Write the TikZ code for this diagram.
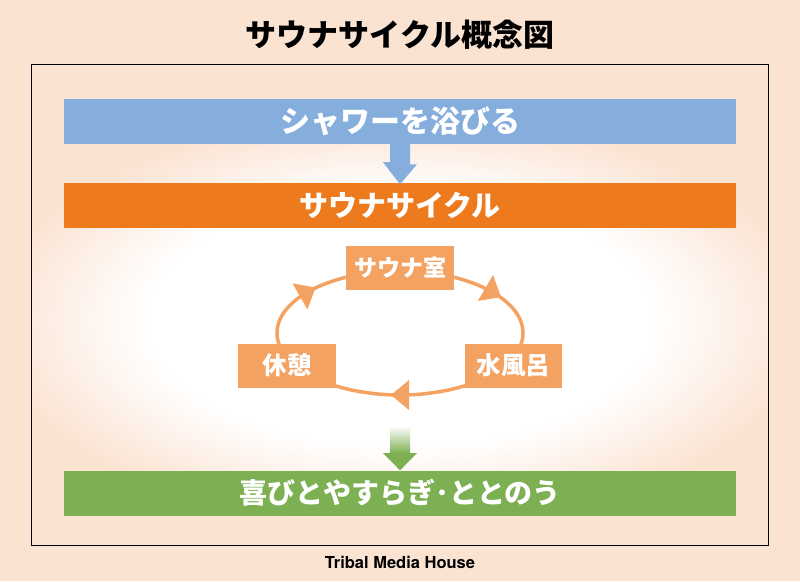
\documentclass[tikz,border=0pt]{standalone}
\usepackage{fontspec}
\newfontfamily\jp{Noto Sans CJK JP}
\setsansfont{TeX Gyre Heros}
\usetikzlibrary{arrows.meta,decorations.markings}
\definecolor{peach}{RGB}{251,227,210}
\definecolor{barblue}{RGB}{133,174,220}
\definecolor{barorange}{RGB}{238,122,30}
\definecolor{bargreen}{RGB}{125,176,82}
\definecolor{cyc}{RGB}{243,162,98}
\pgfdeclareradialshading{glow}{\pgfpoint{0bp}{0bp}}{color(0bp)=(white); color(15bp)=(white); color(24.5bp)=(peach); color(50bp)=(peach)}
\tikzset{
  bar/.style={minimum width=672pt, minimum height=45pt, inner sep=0pt, text=white, font=\jp\bfseries\fontsize{29}{29}\selectfont},
  cycbox/.style={fill=cyc, inner sep=0pt, minimum height=44pt, text=white, font=\jp\bfseries\fontsize{24.5}{24.5}\selectfont},
  cycline/.style={draw=cyc, line width=3.5pt},
}
\newcommand{\cychead}{\fill[cyc] (9pt,0) -- (-9pt,15pt) -- (-9pt,-15pt) -- cycle;}
\begin{document}
\begin{tikzpicture}[x=1pt,y=-1pt]
\useasboundingbox (0,0) rectangle (800,581);
\fill[peach] (0,0) rectangle (800,581);
\begin{scope}
  \clip (31,64) rectangle (768,545);
  \shade[shading=glow] (-20,110) rectangle (820,530);
\end{scope}
\draw[line width=0.8pt] (31,64) rectangle (768,545);
\node (title) at (400,35) {\jp\bfseries\fontsize{31}{31}\selectfont サウナサイクル概念図};
\node (credit) at (400,562) {\sffamily\bfseries\fontsize{16.5}{16.5}\selectfont Tribal Media House};

\node[bar, fill=barblue, font=\jp\bfseries\fontsize{30}{30}\selectfont] (shower) at (400,121.5) {シャワーを浴びる};
\node[bar, fill=barorange] (cycle) at (400,205) {サウナサイクル};
\node[bar, fill=bargreen, font=\jp\bfseries\fontsize{28}{28}\selectfont] (joy) at (400,493) {喜びとやすらぎ･ととのう};

% blue arrow
\fill[barblue] ([xshift=-10pt]shower.south) -- ++(0,18) -- ++(-7,0) -- ([yshift=-2pt]cycle.north) -- ++(17,-20) -- ++(-7,0) -- ([xshift=10pt]shower.south) -- cycle;

% green arrow
\coordinate (gtop) at (400,426);
\shade[top color=white, bottom color=bargreen] ([xshift=-10pt]gtop) rectangle ([xshift=10pt,yshift=-27pt]gtop);
\fill[bargreen] ([xshift=-17pt,yshift=-27pt]gtop) -- (joy.north) -- ([xshift=17pt,yshift=-27pt]gtop) -- cycle;

% cycle ellipse
\draw[cycline, postaction={decorate}, decoration={markings,
   mark=at position 0.25 with {\cychead},
   mark=at position 0.59 with {\cychead},
   mark=at position 0.912 with {\cychead}}]
   (400,333) ellipse [x radius=123, y radius=62];

\node[cycbox, minimum width=108pt, font=\jp\bfseries\fontsize{23}{23}\selectfont] (sauna) at (400,268) {サウナ室};
\node[cycbox, minimum width=98pt] (rest) at (287,365.5) {休憩};
\node[cycbox, minimum width=97pt] (mizu) at (513.5,365.5) {水風呂};
\end{tikzpicture}
\end{document}
